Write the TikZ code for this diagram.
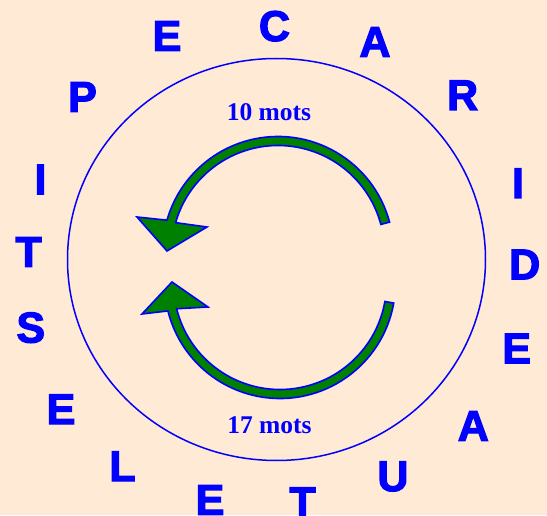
\documentclass[tikz,border=0pt]{standalone}
\usepackage{fontspec}
\newfontfamily\lettrefont{Liberation Sans}
\newfontfamily\motsfont{Liberation Serif}
\usetikzlibrary{calc}
\definecolor{fond}{HTML}{FFEAD6}
\definecolor{vert}{HTML}{008000}
% heavier letters: fill and stroke the glyphs
\newcommand\epais[1]{\special{pdf:literal direct 2 Tr 1.2 w}#1\special{pdf:literal direct 0 Tr}}
\tikzset{
  lettre/.style={text=blue, anchor=base, inner sep=0pt, font=\lettrefont\bfseries\fontsize{43}{44}\selectfont},
  mots/.style={text=blue, anchor=base, inner sep=0pt, font=\motsfont\bfseries\fontsize{25.5}{26}\selectfont},
  fleche/.style={fill=vert, draw=blue, line width=1.6pt, line join=miter}
}
\begin{document}
\begin{tikzpicture}[x=1pt, y=1pt]
    \fill[fond] (0,0) rectangle (547,515);
    \useasboundingbox (0,0) rectangle (547,515);

    % big circle
    \coordinate (centre) at (276.5,255.5);
    \draw[blue, line width=1.5pt] (centre) ellipse [x radius=209, y radius=201];

    % letters around the circle
    \node[lettre] (c)  at (274.5,474) {\epais{C}};
    \node[lettre] (a1) at (375,458.3) {\epais{A}};
    \node[lettre] (r)  at (462.6,405) {\epais{R}};
    \node[lettre] (i1) at (518,317) {\epais{I}};
    \node[lettre] (d)  at (524.7,235.7) {\epais{D}};
    \node[lettre] (e1) at (516.7,151.7) {\epais{E}};
    \node[lettre] (a2) at (473.3,74.3) {\epais{A}};
    \node[lettre] (u)  at (393,24) {\epais{U}};
    \node[lettre] (t1) at (302.5,-2) {\epais{T}};
    \node[lettre] (e2) at (210,0.3) {\epais{E}};
    \node[lettre] (l)  at (122.5,34) {\epais{L}};
    \node[lettre] (e3) at (61,91) {\epais{E}};
    \node[lettre] (s)  at (30.8,172.5) {\epais{S}};
    \node[lettre] (t2) at (28.7,248.3) {\epais{T}};
    \node[lettre] (i2) at (40.5,320.7) {\epais{I}};
    \node[lettre] (p)  at (82.5,403.3) {\epais{P}};
    \node[lettre] (e4) at (167,464.3) {\epais{E}};

    % counts
    \node[mots] (haut) at (269,394.3) {10 mots};
    \node[mots] (bas)  at (269.5,81.5) {17 mots};

    % upper arrow
    \coordinate (c1) at (278,263);
    \draw[fleche] ($(c1)+(15:115.5)$) arc[start angle=15, end angle=164, radius=115.5]
        -- (137,298) -- (167,264) -- (207,288)
        -- ($(c1)+(164:106.5)$) arc[start angle=164, end angle=15, radius=106.5] -- cycle;

    % lower arrow
    \coordinate (c2) at (280,232);
    \draw[fleche] ($(c2)+(-10:115.5)$) arc[start angle=-10, end angle=-166, radius=115.5]
        -- (142,201) -- (172,233) -- (208,208)
        -- ($(c2)+(-166:106.5)$) arc[start angle=-166, end angle=-10, radius=106.5] -- cycle;
\end{tikzpicture}
\end{document}
